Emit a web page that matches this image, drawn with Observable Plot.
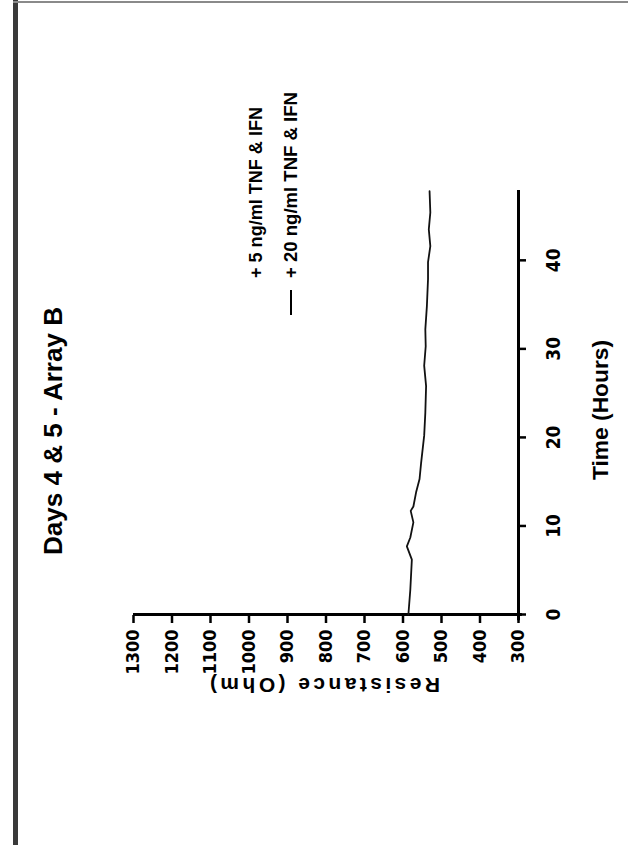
<!DOCTYPE html>
<html>
<head>
<meta charset="utf-8">
<script src="https://cdn.jsdelivr.net/npm/d3@7"></script>
<script src="https://cdn.jsdelivr.net/npm/@observablehq/plot@0.6"></script>
<style>
  html, body { margin: 0; padding: 0; background: #fff; }
  body { width: 628px; height: 845px; overflow: hidden; position: relative; }
  #rot { position: absolute; left: 0; top: 0; width: 845px; height: 628px;
         transform-origin: 0 0; transform: translate(0px, 845px) rotate(-90deg); }
  #edgeL { position: absolute; left: 13px; top: 0; width: 5px; height: 845px; background: #3a3a3a; }
  #edgeT { position: absolute; left: 13px; top: 1px; width: 615px; height: 2px; background: #8a8a8a; }
</style>
</head>
<body>
<div id="edgeL"></div>
<div id="edgeT"></div>
<div id="rot"></div>
<script>
// ---- data ----
const hours = [0, 2.8, 6.2, 7.7, 8.7, 10.4, 11.7, 12.2, 13.8, 15.3, 17.1, 20.2, 22.8, 25.8, 28.1, 30.3, 32.2, 34.8, 37.9, 39.8, 41.6, 43.5, 45.4, 47.8];
const ohm20 = [586, 581, 577, 590, 581, 573, 580, 573, 566, 557, 553, 545, 542, 540, 545, 541, 542, 538, 535, 535, 529, 533, 529, 531];
const timeTicks = [0, 10, 20, 30, 40];
const ohmTicks = [300, 400, 500, 600, 700, 800, 900, 1000, 1100, 1200, 1300];
const titleText = "Days 4 & 5 - Array B";
const legendLabels = ["+ 5 ng/ml TNF & IFN", "+ 20 ng/ml TNF & IFN"];
const xLabel = "Time (Hours)";
const yLabel = "Resistance (Ohm)";

const data = hours.map((h, i) => ({hours: h, ohm: ohm20[i]}));
const narrow = "'Liberation Sans Narrow','Arial Narrow','DejaVu Sans Condensed',sans-serif";
const sans = "'Liberation Sans',Arial,Helvetica,sans-serif";

const chart = Plot.plot({
  width: 845,
  height: 628,
  marginLeft: 230,
  marginRight: 190,
  marginTop: 133,
  marginBottom: 110,
  style: {background: "transparent", color: "#000", fontFamily: narrow, fontWeight: "bold", overflow: "visible"},
  x: {domain: [0, 48]},
  y: {domain: [300, 1300]},
  marks: [
    Plot.axisX({ticks: timeTicks, tickFormat: d3.format("d"), tickSize: 8, tickPadding: 20, strokeWidth: 2.5, label: null,
                fontSize: 19, fontWeight: "bold", fontFamily: narrow}),
    Plot.axisY({ticks: ohmTicks, tickFormat: d3.format("d"), tickSize: 8, tickPadding: 7, strokeWidth: 2.5, label: null,
                fontSize: 18, fontWeight: "bold", fontFamily: narrow}),
    Plot.ruleY([300], {x1: -0.6, x2: 48, strokeWidth: 3, stroke: "#000"}),
    Plot.ruleX([0], {y1: 290, y2: 1300, strokeWidth: 3, stroke: "#000"}),
    Plot.line(data, {x: "hours", y: "ohm", stroke: "#111", strokeWidth: 1.8})
  ]
});

const svg = d3.select(chart);

function addText(x, y, str, size, len, adjust) {
  return svg.append("text")
    .attr("x", x).attr("y", y)
    .attr("text-anchor", "start")
    .attr("font-family", sans).attr("font-weight", "bold").attr("font-size", size)
    .attr("textLength", len).attr("lengthAdjust", adjust || "spacingAndGlyphs")
    .attr("fill", "#000")
    .text(str);
}

// title
addText(290, 62, titleText, 26, 248);

// legend
addText(567, 262, legendLabels[0], 18, 171);
svg.append("line")
  .attr("x1", 530).attr("x2", 555).attr("y1", 291).attr("y2", 291)
  .attr("stroke", "#000").attr("stroke-width", 2);
addText(567, 297, legendLabels[1], 18, 186);

// axis labels
addText(365, 608, xLabel, 22, 140);
svg.append("text")
  .attr("transform", "translate(167,325) rotate(-90)")
  .attr("text-anchor", "middle")
  .attr("font-family", sans).attr("font-weight", "bold").attr("font-size", 21)
  .attr("textLength", 230).attr("lengthAdjust", "spacing")
  .attr("fill", "#000")
  .text(yLabel);

document.getElementById("rot").appendChild(chart);
</script>
</body>
</html>
